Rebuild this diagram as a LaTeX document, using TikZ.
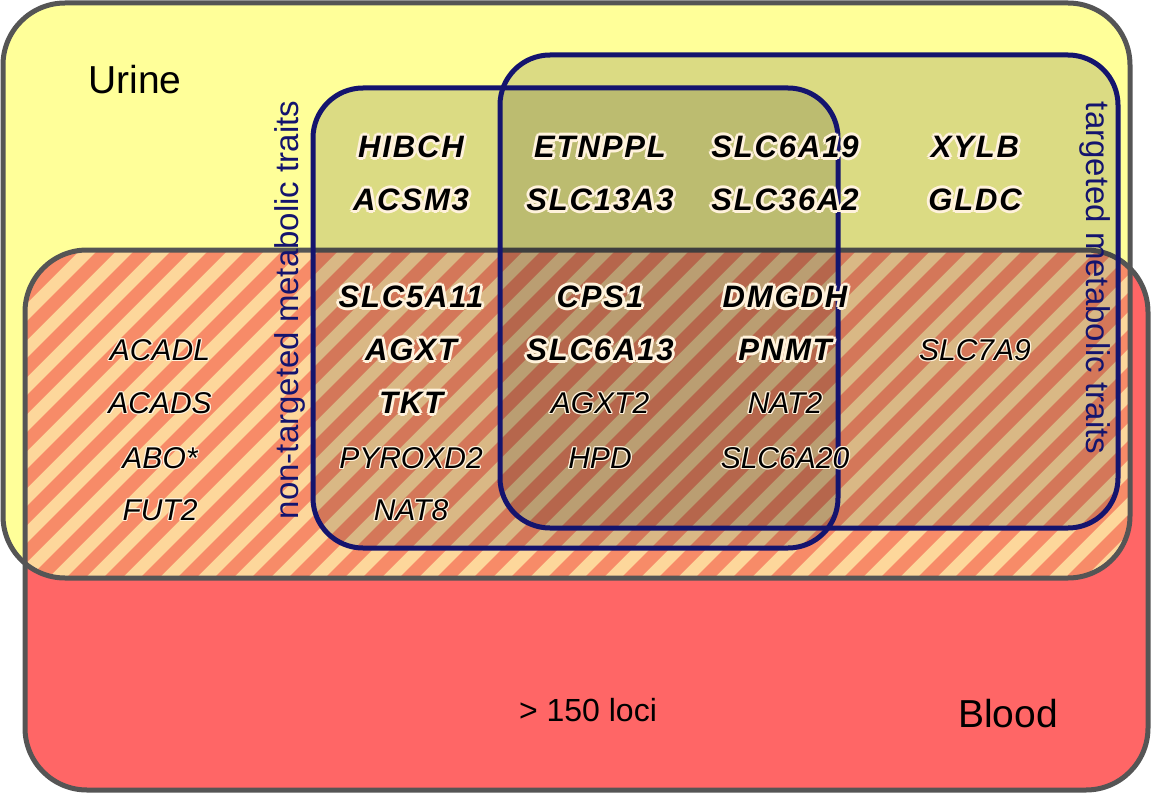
\documentclass[tikz,border=0pt]{standalone}
\usepackage{fontspec}
\setmainfont{Liberation Sans}
\newfontfamily\genefont[LetterSpace=6]{Liberation Sans}
\definecolor{urine}{HTML}{FFFF99}
\definecolor{blood}{HTML}{FF6666}
\definecolor{stripeA}{HTML}{F78B68}
\definecolor{stripeB}{HTML}{FDD79B}
\definecolor{bord}{HTML}{555555}
\definecolor{navy}{HTML}{14146E}
\definecolor{halo}{HTML}{FFF2DC}
\tikzset{
  gene/.style={font=\fontsize{31}{34}\genefont\bfseries\itshape},
  plain/.style={font=\fontsize{30}{34}\selectfont\itshape},
  big/.style={font=\fontsize{39}{44}\selectfont},
  side/.style={font=\fontsize{33}{36}\selectfont, text=navy},
}
\newcommand\hal[5]{%
  \foreach \dx/\dy in {#5/0,-#5/0,0/#5,0/-#5,0.7*#5/0.7*#5,-0.7*#5/0.7*#5,0.7*#5/-0.7*#5,-0.7*#5/-0.7*#5}
    {\node[#4,text=halo] at ([shift={(\dx,\dy)}]#1) {#3};}
  \node[#4] (#2) at (#1) {#3};}
\begin{document}
\begin{tikzpicture}[x=1pt,y=-1pt]
\useasboundingbox (0,0) rectangle (1152,800);
\def\urine{(3,3) rectangle (1130,578)}
\def\blood{(25,250) rectangle (1148,790)}
\fill[urine,rounded corners=62] \urine;
\fill[blood,rounded corners=62] \blood;
\begin{scope}
  \clip[rounded corners=62] \urine;
  \clip[rounded corners=62] \blood;
  \fill[stripeB] (0,0) rectangle (1152,800);
  \foreach \i in {0,...,60} {
    \fill[stripeA] (-600+\i*37,800) -- (-581+\i*37,800) -- (219+\i*37,0) -- (200+\i*37,0) -- cycle;
  }
\end{scope}
\draw[bord,line width=5,rounded corners=62] \urine;
\draw[bord,line width=5,rounded corners=62] \blood;
% metabolic trait boxes
\fill[black,opacity=0.14,rounded corners=50] (313,88) rectangle (838,548);
\fill[black,opacity=0.14,rounded corners=50] (500,55) rectangle (1118,528);
\draw[navy,line width=5,rounded corners=50] (313,88) rectangle (838,548);
\draw[navy,line width=5,rounded corners=50] (500,55) rectangle (1118,528);
% labels
\node[big] (urinel) at (135,80) {Urine};
\node[big] (bloodl) at (1008,714) {Blood};
\node[font=\fontsize{32}{36}\selectfont] (loci) at (588,710) {> 150 loci};
\node[side,rotate=90] (nt) at (290,310) {non-targeted metabolic traits};
\node[side,rotate=-90] (tt) at (1095,278) {targeted metabolic traits};
% genes
\hal{411,147}{g1}{HIBCH}{gene}{3}
\hal{411,200}{g2}{ACSM3}{gene}{3}
\hal{411,297}{g3}{SLC5A11}{gene}{3}
\hal{411,350}{g4}{AGXT}{gene}{3}
\hal{411,403}{g5}{TKT}{gene}{3}
\hal{411,458}{g6}{PYROXD2}{plain}{1.3}
\hal{411,510}{g7}{NAT8}{plain}{1.3}
\hal{600,147}{h1}{ETNPPL}{gene}{3}
\hal{600,200}{h2}{SLC13A3}{gene}{3}
\hal{600,297}{h3}{CPS1}{gene}{3}
\hal{600,350}{h4}{SLC6A13}{gene}{3}
\hal{600,403}{h5}{AGXT2}{plain}{1.3}
\hal{600,458}{h6}{HPD}{plain}{1.3}
\hal{785,147}{k1}{SLC6A19}{gene}{3}
\hal{785,200}{k2}{SLC36A2}{gene}{3}
\hal{785,297}{k3}{DMGDH}{gene}{3}
\hal{785,350}{k4}{PNMT}{gene}{3}
\hal{785,403}{k5}{NAT2}{plain}{1.3}
\hal{785,458}{k6}{SLC6A20}{plain}{1.3}
\hal{975,147}{m1}{XYLB}{gene}{3}
\hal{975,200}{m2}{GLDC}{gene}{3}
\hal{975,350}{m3}{SLC7A9}{plain}{1.3}
\hal{160,350}{a1}{ACADL}{plain}{1.3}
\hal{160,403}{a2}{ACADS}{plain}{1.3}
\hal{160,458}{a3}{ABO*}{plain}{1.3}
\hal{160,510}{a4}{FUT2}{plain}{1.3}
\end{tikzpicture}
\end{document}
